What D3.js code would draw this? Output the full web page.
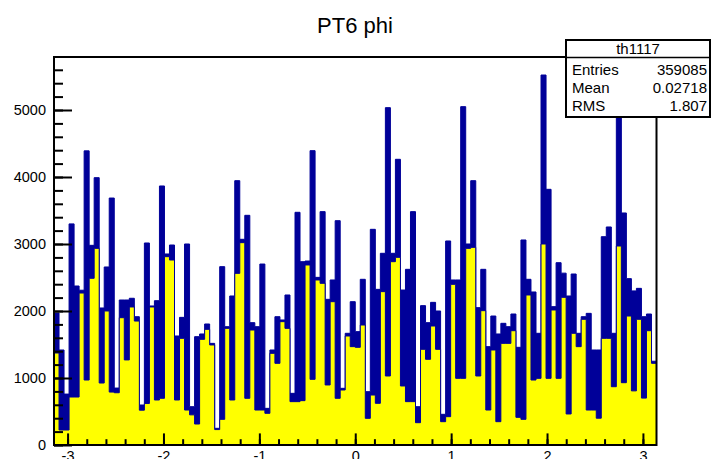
<!DOCTYPE html>
<html>
<head>
<meta charset="utf-8">
<script src="https://cdn.jsdelivr.net/npm/d3@7"></script>
<style>
  body { margin: 0; background: #fff; }
  svg { display: block; font-family: "Liberation Sans", Arial, sans-serif; }
</style>
</head>
<body>
<div id="chart"></div>
<script>
// histogram range and binning
var nBins = 120;
var phiMin = -Math.PI, phiMax = Math.PI;

// all entries (dark blue) per bin
var allCounts = [
  1970, 1418, 760, 3300, 2373, 2310, 4390, 2980, 3990, 2045,
  2657, 3686, 850, 2164, 2164, 2190, 1915, 597, 3015, 2075,
  2154, 3866, 2851, 2985, 1627, 1905, 3000, 572, 1617, 1657,
  1806, 1517, 249, 2662, 1766, 2224, 3945, 3070, 3428, 1826,
  1766, 2701, 547, 1418, 1915, 1866, 2239, 771, 3473, 2736,
  2746, 4393, 2502, 3483, 2174, 2463, 3348, 846, 1667, 2139,
  1692, 2473, 796, 3219, 2323, 2861, 5035, 2861, 4264, 2313,
  2622, 3483, 572, 2080, 1826, 2129, 2000, 458, 3045, 2463,
  2463, 5050, 3000, 3945, 2050, 2622, 1468, 1925, 1657, 1816,
  1766, 1955, 1458, 3060, 2473, 2284, 1667, 5522, 3816, 2065,
  2721, 2565, 2224, 2552, 1667, 1915, 1965, 1418, 1418, 3109,
  3254, 1667, 5200, 3463, 2483, 2300, 2338, 1915, 1955, 1250
];

// selected entries (yellow) per bin
var selCounts = [
  1373, 224, 224, 716, 716, 2268, 970, 2488, 2935, 925,
  2000, 790, 780, 1900, 1270, 2060, 1850, 520, 620, 2060,
  672, 697, 2811, 2761, 672, 1592, 522, 450, 313, 1577,
  1726, 1493, 230, 383, 1741, 672, 2562, 3020, 697, 1716,
  522, 522, 473, 1368, 1219, 1841, 1741, 647, 647, 662,
  2687, 980, 2463, 2413, 896, 2139, 697, 821, 1627, 1468,
  1458, 1791, 398, 746, 622, 2289, 1030, 2736, 2801, 881,
  647, 647, 333, 1428, 1279, 1776, 1428, 348, 423, 2398,
  995, 995, 2935, 2950, 1030, 2005, 522, 1418, 348, 1517,
  1517, 1706, 413, 383, 2239, 970, 995, 3000, 995, 2015,
  995, 2204, 463, 1667, 1468, 1876, 522, 522, 400, 1592,
  1592, 870, 2970, 930, 1925, 808, 1876, 700, 1706, 1219
];

var xTicks = [-3, -2, -1, 0, 1, 2, 3];
var yTicks = [0, 1000, 2000, 3000, 4000, 5000];
var titleText = "PT6 phi";
var statsName = "th1117";
var statsLabels = ["Entries", "Mean", "RMS"];
var statsValues = ["359085", "0.02718", "1.807"];

var width = 711, height = 459;
var frame = {left: 54, right: 656.5, top: 57, bottom: 445};
var lineCol = "#000099";

var svg = d3.select("#chart").append("svg")
  .attr("width", width)
  .attr("height", height);

var x = d3.scaleLinear().domain([phiMin, phiMax]).range([frame.left, frame.right]);
var y = d3.scaleLinear().domain([0, 5791]).range([frame.bottom, frame.top]);

// bin edges
var edges = d3.range(nBins + 1).map(function(i) { return phiMin + i * (phiMax - phiMin) / nBins; });

function stepPoints(counts) {
  var pts = [{e: edges[0], v: 0}];
  counts.forEach(function(c, i) {
    pts.push({e: edges[i], v: c});
    pts.push({e: edges[i + 1], v: c});
  });
  pts.push({e: edges[nBins], v: 0});
  return pts;
}

var area = d3.area()
  .x(function(d) { return x(d.e); })
  .y0(y(0))
  .y1(function(d) { return y(d.v); });
var line = d3.line()
  .x(function(d) { return x(d.e); })
  .y(function(d) { return y(d.v); });

// blue histogram
svg.append("path")
  .datum(stepPoints(allCounts))
  .attr("d", area)
  .attr("fill", lineCol)
  .attr("stroke", lineCol)
  .attr("stroke-width", 1);

// yellow histogram on top
var selPts = stepPoints(selCounts);
svg.append("path")
  .datum(selPts)
  .attr("d", area)
  .attr("fill", "#ffff00");
svg.append("path")
  .datum(selPts)
  .attr("d", line)
  .attr("fill", "none")
  .attr("stroke", lineCol)
  .attr("stroke-width", 1);

// frame
svg.append("rect")
  .attr("x", frame.left).attr("y", frame.top)
  .attr("width", frame.right - frame.left)
  .attr("height", frame.bottom - frame.top)
  .attr("fill", "none")
  .attr("stroke", "#000")
  .attr("stroke-width", 2);

// y axis, ticks pointing inside
var yAxis = svg.append("g")
  .attr("transform", "translate(" + frame.left + ",0)")
  .call(d3.axisLeft(y).tickValues(yTicks).tickSize(-18).tickPadding(8)
    .tickFormat(function(d) { return String(d); }));
svg.append("g")
  .attr("transform", "translate(" + frame.left + ",0)")
  .call(d3.axisLeft(y).tickValues(d3.range(0, 5800, 200)).tickSize(-9).tickFormat(""));

// x axis
svg.append("g")
  .attr("transform", "translate(0," + frame.bottom + ")")
  .call(d3.axisBottom(x).tickValues(xTicks).tickSize(-11.6).tickPadding(6)
    .tickFormat(function(d) { return String(d); }));
svg.append("g")
  .attr("transform", "translate(0," + frame.bottom + ")")
  .call(d3.axisBottom(x).tickValues(d3.range(-30, 31, 2).map(function(v) { return v / 10; }))
    .tickSize(-5.8).tickFormat(""));

svg.selectAll(".domain").remove();
svg.selectAll(".tick line").attr("stroke", "#000").attr("stroke-width", 2);
svg.selectAll(".tick text")
  .attr("fill", "#000")
  .style("font-size", "14.5px")
  .style("font-family", "Liberation Sans, Arial, sans-serif");

// title
svg.append("text")
  .attr("x", 355).attr("y", 33)
  .attr("text-anchor", "middle")
  .style("font-size", "22px")
  .text(titleText);

// stats box
var box = {x: 566, y: 40, w: 144, h: 77};
svg.append("rect")
  .attr("x", box.x).attr("y", box.y)
  .attr("width", box.w).attr("height", box.h)
  .attr("fill", "#fff")
  .attr("stroke", "#000")
  .attr("stroke-width", 2);
svg.append("line")
  .attr("x1", box.x).attr("x2", box.x + box.w)
  .attr("y1", 57.5).attr("y2", 57.5)
  .attr("stroke", "#000").attr("stroke-width", 1.5);
svg.append("text")
  .attr("x", box.x + box.w / 2).attr("y", 54)
  .attr("text-anchor", "middle")
  .style("font-size", "15px")
  .text(statsName);
statsLabels.forEach(function(lbl, i) {
  svg.append("text")
    .attr("x", box.x + 6).attr("y", 75 + i * 18)
    .style("font-size", "15px")
    .text(lbl);
  svg.append("text")
    .attr("x", box.x + box.w - 3).attr("y", 75 + i * 18)
    .attr("text-anchor", "end")
    .style("font-size", "15px")
    .text(statsValues[i]);
});
</script>
</body>
</html>
